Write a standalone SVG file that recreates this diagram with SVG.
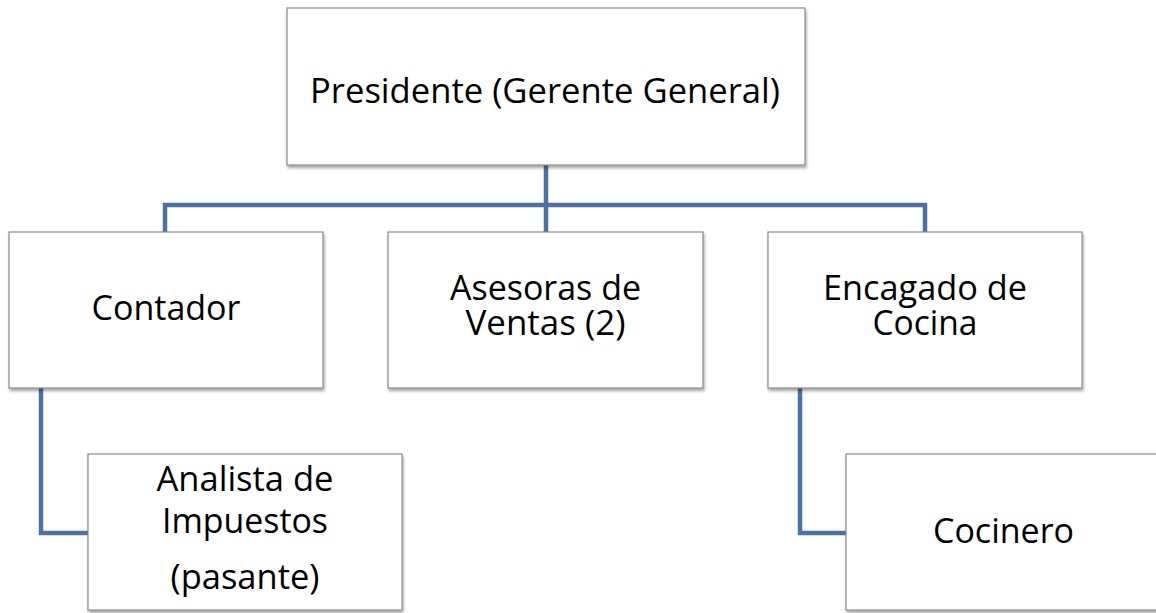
<svg xmlns="http://www.w3.org/2000/svg" width="1156" height="613" viewBox="0 0 1156 613">
<style>
.box{fill:#fff;stroke:#8a8a8a;stroke-width:1.2;filter:url(#sh)}
.lbl{font-family:"Open Sans","Liberation Sans",sans-serif;font-size:34px;fill:#000;text-anchor:middle}
.con{fill:none;stroke:#4a72a6;stroke-width:4.5;stroke-linejoin:miter}
</style>
<defs>
<filter id="sh" x="-5%" y="-5%" width="115%" height="120%">
<feDropShadow dx="1" dy="2.5" stdDeviation="1.6" flood-color="#000" flood-opacity="0.35"/>
</filter>
</defs>
<rect width="1156" height="613" fill="#fff"/>
<g id="connectors">
<path class="con" d="M546 165 V232"/>
<path class="con" d="M165 232 V205 H925 V232"/>
<path class="con" d="M41 388 V533 H88"/>
<path class="con" d="M800 388 V533 H846"/>
</g>
<g id="n-presidente">
<rect class="box" x="287" y="8" width="518" height="157"/>
<text class="lbl" x="545" y="103" textLength="470" lengthAdjust="spacingAndGlyphs">Presidente (Gerente General)</text>
</g>
<g id="n-contador">
<rect class="box" x="9" y="232" width="314" height="156"/>
<text class="lbl" x="166" y="320" textLength="149" lengthAdjust="spacingAndGlyphs">Contador</text>
</g>
<g id="n-asesoras">
<rect class="box" x="388" y="232" width="315" height="156"/>
<text class="lbl" x="545.5" y="300" textLength="191" lengthAdjust="spacingAndGlyphs">Asesoras de</text>
<text class="lbl" x="545.5" y="335" textLength="160" lengthAdjust="spacingAndGlyphs">Ventas (2)</text>
</g>
<g id="n-encargado">
<rect class="box" x="768" y="232" width="314" height="156"/>
<text class="lbl" x="925" y="300" textLength="204" lengthAdjust="spacingAndGlyphs">Encagado de</text>
<text class="lbl" x="925" y="335" textLength="105" lengthAdjust="spacingAndGlyphs">Cocina</text>
</g>
<g id="n-analista">
<rect class="box" x="88" y="454" width="314" height="156"/>
<text class="lbl" x="245" y="491" textLength="177" lengthAdjust="spacingAndGlyphs">Analista de</text>
<text class="lbl" x="245" y="533" textLength="166" lengthAdjust="spacingAndGlyphs">Impuestos</text>
<text class="lbl" x="245" y="589" textLength="149" lengthAdjust="spacingAndGlyphs">(pasante)</text>
</g>
<g id="n-cocinero">
<rect class="box" x="846" y="454" width="320" height="156"/>
<text class="lbl" x="1003.5" y="543" textLength="141" lengthAdjust="spacingAndGlyphs">Cocinero</text>
</g>
</svg>
